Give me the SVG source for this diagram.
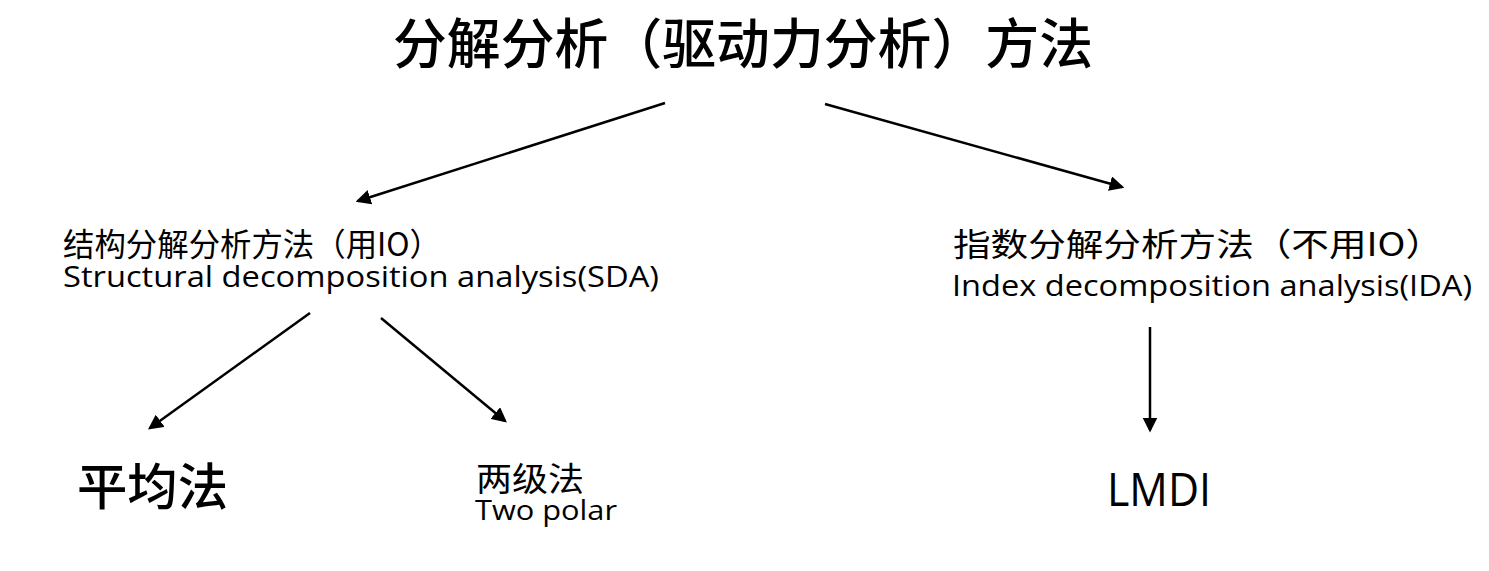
<svg xmlns="http://www.w3.org/2000/svg" width="1489" height="571" viewBox="0 0 1489 571">
<style>
.cn{font-family:"Noto Sans CJK SC",sans-serif;fill:#000}
.en{font-family:"Open Sans","Noto Sans CJK SC",sans-serif;fill:#000}
.hd{font-family:"Noto Sans CJK SC",sans-serif;font-weight:500;fill:#000}
.c{stroke:#000;stroke-width:2.5;fill:none;marker-end:url(#ah)}
</style>
<defs>
<marker id="ah" markerWidth="6" markerHeight="6" refX="5" refY="3" orient="auto" markerUnits="strokeWidth">
<path d="M0,0 L6,3 L0,6 Z" fill="#000"/>
</marker>
</defs>
<rect width="1489" height="571" fill="#fff"/>
<g id="title">
<text class="hd" x="393" y="64" font-size="54" textLength="700" lengthAdjust="spacingAndGlyphs">分解分析（驱动力分析）方法</text>
</g>
<g id="sda">
<text class="cn" x="63" y="256" font-size="32" textLength="378" lengthAdjust="spacingAndGlyphs">结构分解分析方法（用IO）</text>
<text class="en" x="63" y="287" font-size="29" textLength="596" lengthAdjust="spacingAndGlyphs">Structural decomposition analysis(SDA)</text>
</g>
<g id="ida">
<text class="cn" x="953" y="256" font-size="32" textLength="490" lengthAdjust="spacingAndGlyphs">指数分解分析方法（不用IO）</text>
<text class="en" x="952" y="296" font-size="29" textLength="520" lengthAdjust="spacingAndGlyphs">Index decomposition analysis(IDA)</text>
</g>
<g id="avg">
<text class="hd" x="77" y="505" font-size="50" textLength="151" lengthAdjust="spacingAndGlyphs">平均法</text>
</g>
<g id="twopolar">
<text class="cn" x="476" y="491" font-size="33" textLength="108" lengthAdjust="spacingAndGlyphs">两级法</text>
<text class="en" x="475" y="520" font-size="28" textLength="142" lengthAdjust="spacingAndGlyphs">Two polar</text>
</g>
<g id="lmdi">
<text class="en" x="1107" y="506" font-size="46" textLength="104" lengthAdjust="spacingAndGlyphs">LMDI</text>
</g>
<g id="connectors">
<line class="c" x1="665" y1="103" x2="358" y2="201"/>
<line class="c" x1="825" y1="104" x2="1122" y2="187"/>
<line class="c" x1="310" y1="313" x2="150" y2="428"/>
<line class="c" x1="381" y1="318" x2="505" y2="421"/>
<line class="c" x1="1150" y1="327" x2="1150" y2="430"/>
</g>
</svg>
